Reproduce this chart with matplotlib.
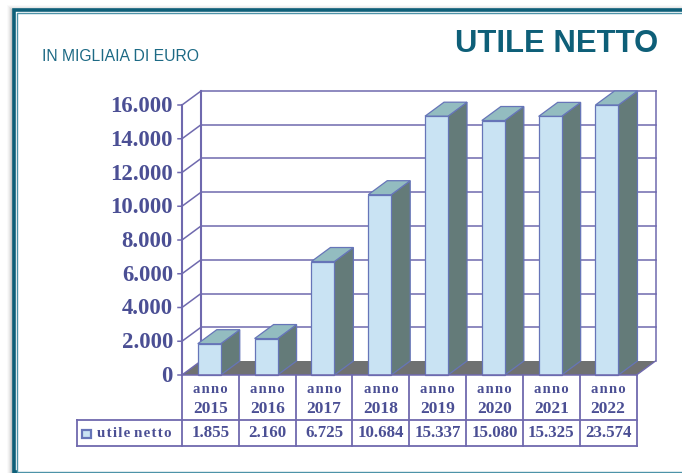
import numpy as np
import matplotlib.pyplot as plt
from matplotlib.patches import Polygon, Rectangle

# Data
years = ["2015", "2016", "2017", "2018", "2019", "2020", "2021", "2022"]
utile_netto = [1855, 2160, 6725, 10684, 15337, 15080, 15325, 23574]
utile_labels = ["1.855", "2.160", "6.725", "10.684", "15.337", "15.080", "15.325", "23.574"]
y_ticks = [0, 2000, 4000, 6000, 8000, 10000, 12000, 14000, 16000]
y_labels = ["0", "2.000", "4.000", "6.000", "8.000", "10.000", "12.000", "14.000", "16.000"]
y_max = 16000

# Colours
TEAL = "#0e5f78"
LINE = "#6f69ae"
EDGE = "#6675b8"
TEXT = "#4b4f94"
FRONT = "#c9e3f3"
SIDE = "#647b79"
TOP = "#93bcc0"
FLOOR = "#6f7171"
SERIF = "Liberation Serif"


def spaced(s):
    # letter spacing with hair spaces, the labels in the table are tracked out
    return "\u200a".join(s)


W, H = 682, 473
fig = plt.figure(figsize=(W / 100, H / 100), dpi=100, facecolor="white")

# page frame, in pixels
bg = fig.add_axes([0, 0, 1, 1])
bg.set_xlim(0, W)
bg.set_ylim(H, 0)
bg.axis("off")
for i, a in enumerate([0.02, 0.03, 0.04, 0.06, 0.08]):
    bg.add_patch(Rectangle((7 + i, 5 + i), 700, 500, fc="black", ec="none", alpha=a))
bg.add_patch(Rectangle((13.5, 10.5), 700, 461, fc="white", ec=TEAL, lw=2.6))
bg.add_patch(Rectangle((16.5, 13.5), 700, 458, fc="white", ec="#4d93a8", lw=1))
bg.text(658, 52.5, "UTILE NETTO", family="Liberation Sans", weight="bold", fontsize=22.3,
        color=TEAL, ha="right", va="baseline")
bg.text(42, 61, "IN MIGLIAIA DI EURO", family="Liberation Sans", fontsize=11.3,
        color="#1d6a85", ha="left", va="baseline")

# chart axes: front plane of the 3D box
x0, x1, y_top, y_bot = 182, 636.5, 105, 375
ax = fig.add_axes([x0 / W, 1 - y_bot / H, (x1 - x0) / W, (y_bot - y_top) / H])
ax.set_xlim(0, len(years))
ax.set_ylim(0, y_max)
ax.axis("off")
ax.patch.set_alpha(0)

px_x = len(years) / (x1 - x0)
px_y = y_max / (y_bot - y_top)
dx = 19 * px_x
dy = 14 * px_y
n = len(years)

# floor
ax.add_patch(Polygon([(0, 0), (n, 0), (n + dx, dy), (dx, dy)], fc=FLOOR, ec="none",
                     clip_on=False, zorder=1))

# walls and grid
for t, lab in zip(y_ticks, y_labels):
    if t > 0:
        ax.plot([dx, n + dx], [t + dy, t + dy], color=LINE, lw=1.1, clip_on=False, zorder=1)
    ax.plot([-4 * px_x, 0, dx], [t, t, t + dy], color=LINE, lw=1.1, clip_on=False, zorder=2)
    ax.text(-9 * px_x, t - 1.5 * px_y, lab, family=SERIF, weight="bold", fontsize=16.4,
            color=TEXT, ha="right", va="center", clip_on=False)
ax.plot([0, 0], [0, y_max], color=LINE, lw=1.5, clip_on=False, zorder=2)
ax.plot([dx, dx], [dy, y_max + dy], color=LINE, lw=1.5, clip_on=False, zorder=1)
ax.plot([n + dx, n + dx], [dy, y_max + dy], color=LINE, lw=1.1, clip_on=False, zorder=1)
ax.plot([n, n + dx], [0, dy], color=LINE, lw=1.0, clip_on=False, zorder=1)

# bars, clipped at the top of the scale like in the original
bar_w = 23 * px_x
heights = np.minimum(utile_netto, y_max)
for i, h in enumerate(heights):
    left = i + 0.48 - bar_w / 2
    right = left + bar_w
    ax.add_patch(Polygon([(right, 0), (right + dx, dy), (right + dx, h + dy), (right, h)],
                         fc=SIDE, ec=EDGE, lw=0.9, clip_on=False, zorder=3))
    ax.add_patch(Polygon([(left, h), (right, h), (right + dx, h + dy), (left + dx, h + dy)],
                         fc=TOP, ec=EDGE, lw=0.9, clip_on=False, zorder=3))
    ax.add_patch(Rectangle((left, 0), bar_w, h, fc=FRONT, ec=EDGE, lw=0.9,
                           clip_on=False, zorder=4))

# data table below the chart
row1 = -45 * px_y
row2 = -71 * px_y
legend_x = -105 * px_x
ax.plot([legend_x, n], [row1, row1], color=LINE, lw=1.3, clip_on=False)
ax.plot([legend_x, n], [row2, row2], color=LINE, lw=1.3, clip_on=False)
ax.plot([0, n], [0, 0], color=LINE, lw=1.1, clip_on=False, zorder=5)
ax.plot([legend_x, legend_x], [row1, row2], color=LINE, lw=1.3, clip_on=False)
for i in range(n + 1):
    ax.plot([i, i], [0, row2], color=LINE, lw=1.3, clip_on=False)
for i, y in enumerate(years):
    ax.text(i + 0.5, -14 * px_y, spaced("anno"), family=SERIF, weight="bold", fontsize=10.5,
            color=TEXT, ha="center", va="center", clip_on=False)
    ax.text(i + 0.5, -34 * px_y, y, family=SERIF, weight="bold", fontsize=12.5,
            color=TEXT, ha="center", va="center", clip_on=False)
    ax.text(i + 0.5, row1 - 13 * px_y, utile_labels[i], family=SERIF, weight="bold",
            fontsize=12.2, color=TEXT, ha="center", va="center", clip_on=False)
ax.add_patch(Rectangle((legend_x + 4.5 * px_x, row1 - 18 * px_y), 9 * px_x, 8.5 * px_y,
                       fc=FRONT, ec=EDGE, lw=1.6, clip_on=False))
ax.text(legend_x + 20 * px_x, row1 - 13.5 * px_y, spaced("utile") + " " + spaced("netto"),
        family=SERIF, weight="bold", fontsize=10.8, color=TEXT, ha="left", va="center",
        clip_on=False)

fig.savefig("out.png", dpi=100)
